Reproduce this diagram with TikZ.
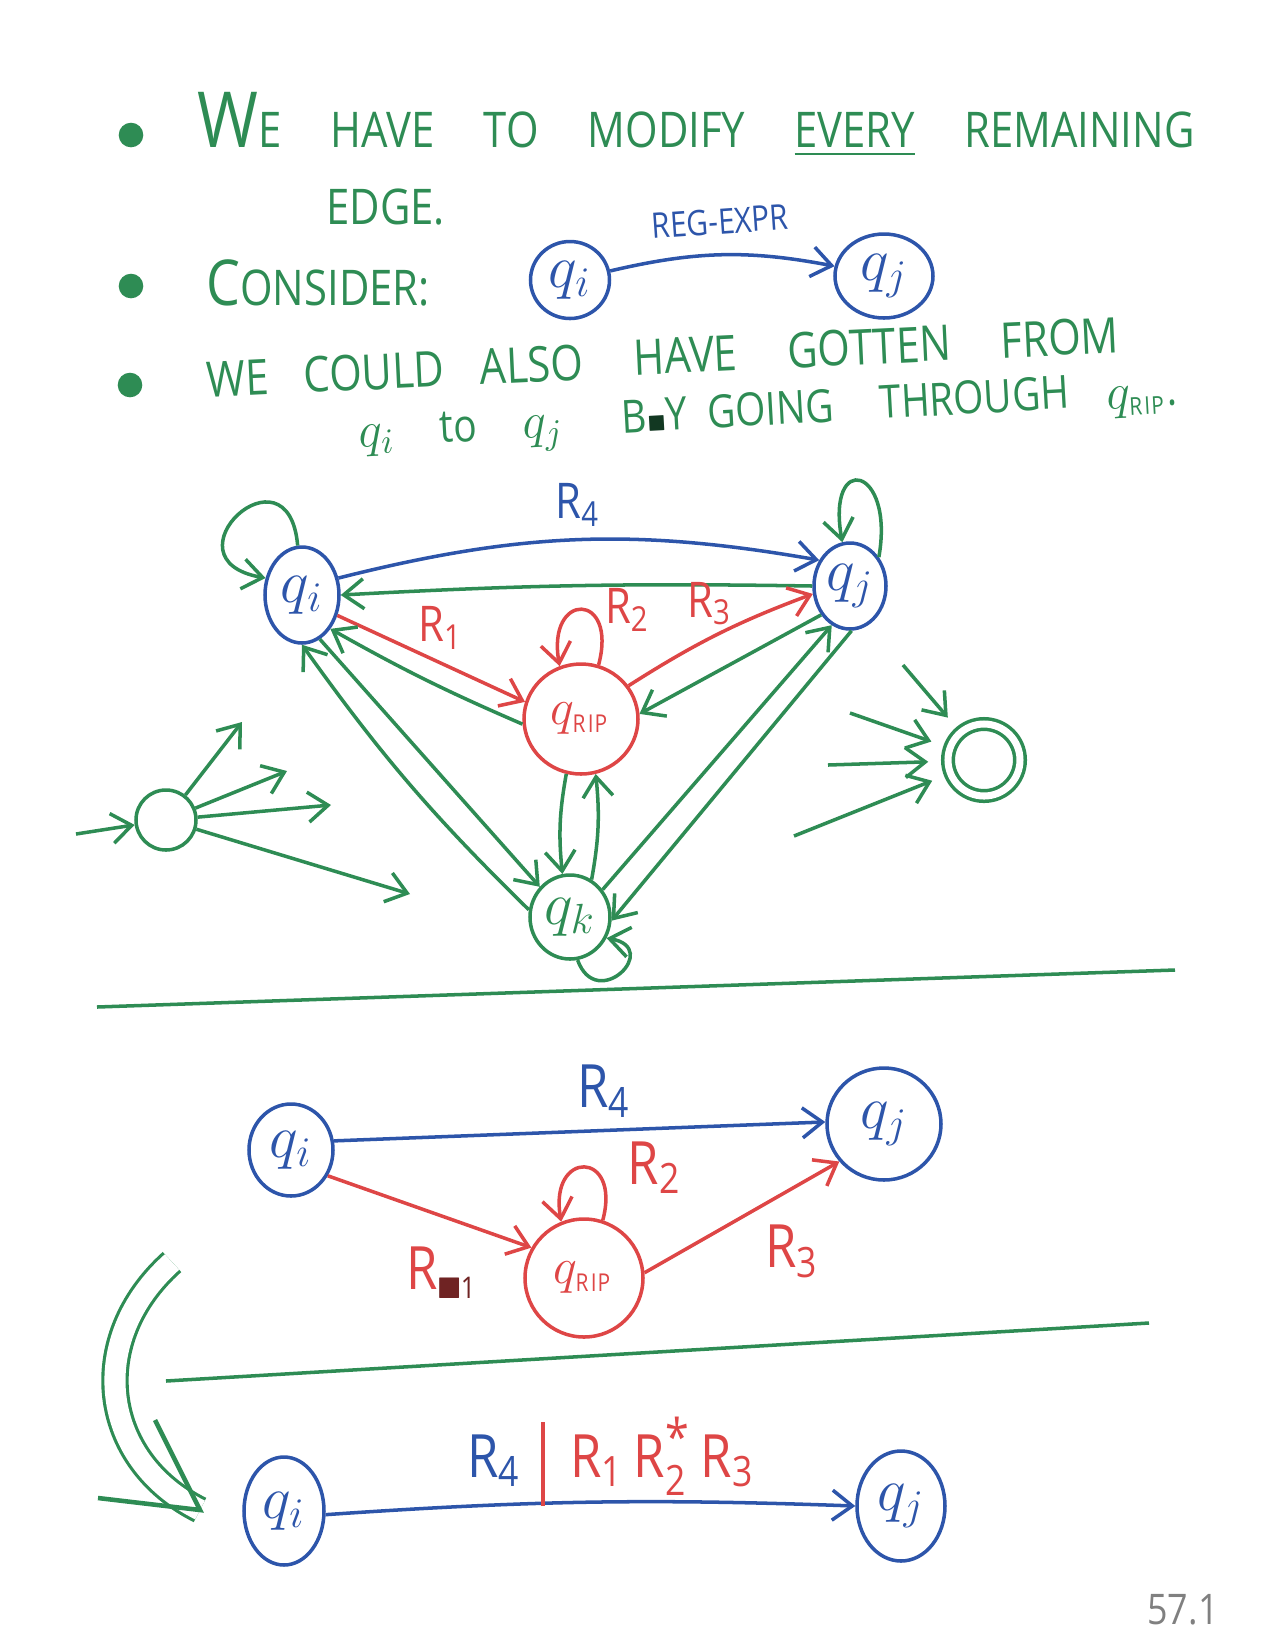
\documentclass[tikz,border=0pt]{standalone}
\usepackage{amsmath,amssymb}
\usepackage{fontspec}
\setmainfont{Open Sans}[FakeStretch=0.85]
\usepackage{tikz}
\usetikzlibrary{shapes.geometric,arrows.meta,positioning}

\definecolor{pengreen}{RGB}{46,140,84}
\definecolor{penblue}{RGB}{45,85,170}
\definecolor{penred}{RGB}{222,70,70}
\newcommand{\Rsub}[1]{R$_{\text{#1}}$}
\newcommand{\rip}{{\scriptscriptstyle\mathrm{RIP}}}

\begin{document}
\begin{tikzpicture}[x=1cm, y=-1cm, >={Straight Barb[length=2mm,width=3mm]},
    pen/.style={line width=1pt},
    state/.style={ellipse, draw, pen, inner sep=0pt, font=\LARGE},
    blue state/.style={state, draw=penblue, text=penblue},
    red state/.style={state, draw=penred, text=penred, font=\Large},
    green state/.style={state, draw=pengreen, text=pengreen},
    blue edge/.style={->, pen, penblue},
    red edge/.style={->, pen, penred},
    green edge/.style={->, pen, pengreen},
    note/.style={anchor=base west, text=pengreen, font=\fontsize{14}{16}\selectfont},
    rlabel/.style={font=\fontsize{14}{16}\selectfont},
    big rlabel/.style={font=\fontsize{17}{19}\selectfont},
    bulletdot/.style={circle, fill=pengreen, inner sep=0pt, minimum size=7pt}
]
    \useasboundingbox (0,0) rectangle (12.75,16.5);

    % bullet points
    \node[bulletdot] (b1) at (1.31,1.35) {};
    \node[note] (line1) at (1.85,1.47) {{\fontsize{22}{22}\selectfont W}E\quad HAVE\quad TO\quad MODIFY\quad \underline{EVERY}\quad REMAINING};
    \node[note] (line2) at (3.14,2.24) {EDGE.};
    \node[bulletdot] (b2) at (1.31,2.86) {};
    \node[note] (line3) at (1.94,3.05) {{\fontsize{18}{18}\selectfont C}ONSIDER:};
    \node[bulletdot] (b3) at (1.30,3.85) {};
    \node[note, rotate=2.7] (line4a) at (1.95,3.98) {WE\hspace{0.5em} COULD\hspace{0.5em} ALSO};
    \node[note, rotate=2.7] (line4b) at (6.22,3.76) {HAVE\hspace{0.8em} GOTTEN\hspace{0.8em} FROM};
    \node[note, rotate=3.2, font=\fontsize{13}{15}\selectfont] (line5a) at (3.47,4.48) {{\Large$q_i$}\quad to\quad {\Large$q_j$}};
    \node[note, rotate=3.2, font=\fontsize{13}{15}\selectfont] (line5b) at (6.10,4.34) {B{\tiny\color{pengreen!40!black}$\blacksquare$}Y\ \ GOING\quad THROUGH};
    \node[note, rotate=3.2, font=\fontsize{13}{15}\selectfont] (line5c) at (10.95,4.10) {{\Large$q_{\rip}$}.};

    % single edge example
    \node[blue state, minimum width=0.79cm, minimum height=0.77cm] (ti) at (5.70,2.80) {$q_i$};
    \node[blue state, minimum width=0.98cm, minimum height=0.84cm] (tj) at (8.84,2.76) {$q_j$};
    \draw[blue edge] (ti) to[bend left=12] node[above=2pt, rotate=4, font=\fontsize{10}{12}\selectfont] {REG-EXPR} (tj);

    % full automaton around q_rip
    \node[blue state, minimum width=0.74cm, minimum height=0.96cm] (mi) at (3.02,5.95) {$q_i$};
    \node[blue state, minimum width=0.72cm, minimum height=0.86cm] (mj) at (8.50,5.86) {$q_j$};
    \node[red state, minimum width=1.14cm, minimum height=1.10cm] (mrip) at (5.81,7.19) {$q_{\rip}$};
    \node[green state, minimum width=0.80cm, minimum height=0.84cm] (mk) at (5.70,9.17) {$q_k$};
    \node[green state, minimum size=0.6cm] (start) at (1.66,8.20) {};
    \node[green state, minimum size=0.72cm, double, double distance=2pt] (accept) at (9.84,7.60) {};

    \draw[blue edge] (mi.25) to[bend left=12] node[above, rlabel] {\Rsub{4}} (mj.140);
    \draw[green edge] (mj.180) to[bend right=2] (mi.0);
    \draw[red edge] (mi.-30) -- node[pos=0.55, above, rlabel] {\Rsub{1}} (mrip.163);
    \draw[red edge] (mrip.35) to[bend left=6] node[pos=0.45, above=0pt, rlabel] {\Rsub{3}} (mj.-168);
    \draw[red edge] (mrip.72) to[out=75, in=100, looseness=5] node[right=1mm, rlabel] {\Rsub{2}} (mrip.112);
    \draw[green edge] (mrip.185) to[bend left=3] (mi.-50);
    \draw[green edge] (mj.-135) to (mrip.5);
    \draw[green edge] (mrip.-105) to[bend right=8] (mk.100);
    \draw[green edge] (mk.60) to[bend right=8] (mrip.-75);
    \draw[green edge] (mk.170) to[bend left=5] (mi.-90);
    \draw[green edge] (mi.-68) to (mk.135);
    \draw[green edge] (mk.40) to (mj.-115);
    \draw[green edge] (mj.-88) to (mk.-5);
    \draw[green edge] (mi.95) to[out=95, in=170, looseness=6] (mi.155);
    \draw[green edge] (mj.45) to[out=80, in=100, looseness=6] (mj.100);
    \draw[green edge] (mk.-80) to[out=-70, in=-10, looseness=4] (mk.-30);

    % loose arrows at start and accepting states
    \coordinate (s0) at (0.76,8.34);
    \coordinate (s1) at (2.42,7.22);
    \coordinate (s2) at (2.87,7.71);
    \coordinate (s3) at (3.31,8.05);
    \coordinate (s4) at (4.10,8.94);
    \draw[green edge] (s0) -- (start);
    \draw[green edge] (start) -- (s1);
    \draw[green edge] (start) -- (s2);
    \draw[green edge] (start) -- (s3);
    \draw[green edge] (start) -- (s4);
    \coordinate (a1) at (9.03,6.65);
    \coordinate (a2) at (8.50,7.13);
    \coordinate (a3) at (8.28,7.65);
    \coordinate (a4) at (7.94,8.36);
    \draw[green edge, shorten >=1.8mm] (a1) -- (accept);
    \draw[green edge, shorten >=1.8mm] (a2) -- (accept);
    \draw[green edge, shorten >=1.8mm] (a3) -- (accept);
    \draw[green edge, shorten >=1.8mm] (a4) -- (accept);

    \draw[pen, pengreen] (0.97,10.07) -- (11.75,9.70);

    % only the edges through q_rip
    \node[blue state, minimum width=0.84cm, minimum height=0.92cm] (li) at (2.91,11.50) {$q_i$};
    \node[blue state, minimum width=1.14cm, minimum height=1.12cm] (lj) at (8.84,11.24) {$q_j$};
    \node[red state, minimum size=1.18cm] (lrip) at (5.84,12.78) {$q_{\rip}$};
    \draw[blue edge] (li.12) -- node[pos=0.55, above, big rlabel] {\Rsub{4}} (lj.178);
    \draw[red edge] (li.-35) -- node[pos=0.8, below left, big rlabel] {R$_{\color{penred!50!black}\scriptscriptstyle\blacksquare\text{1}}$} (lrip.150);
    \draw[red edge] (lrip.5) -- node[pos=0.55, below right, big rlabel] {\Rsub{3}} (lj.-140);
    \draw[red edge] (lrip.72) to[out=75, in=100, looseness=4.5] node[right=3mm, big rlabel] {\Rsub{2}} (lrip.112);

    % rewrite arrow
    \coordinate (c1) at (1.72,12.62);
    \coordinate (c2) at (2.00,15.10);
    \draw[pengreen, line width=0.9pt, double distance=6pt] (c1) .. controls (0.85,13.4) and (1.0,14.6) .. (c2);
    \draw[pengreen, line width=1.3pt] (c2) ++(-1.02,-0.12) -- (c2) -- ++(-0.45,-0.9);

    \draw[pen, pengreen] (1.66,13.81) -- (11.49,13.23);

    % result
    \node[blue state, minimum width=0.80cm, minimum height=1.08cm] (bi) at (2.84,15.11) {$q_i$};
    \node[blue state, minimum width=0.88cm, minimum height=1.10cm] (bj) at (9.01,15.06) {$q_j$};
    \draw[blue edge] (bi.-5) to[bend left=3] (bj.180);
    \node[big rlabel, text=penblue] (lr4) at (4.94,14.61) {\Rsub{4}};
    \node[big rlabel, text=penred, anchor=west] (lrest) at (5.58,14.56) {\Rsub{1}\,R$^{\text{\Large *}}_{\text{2}}$\,\Rsub{3}};
    \draw[pen, penred] (5.43,14.22) -- (5.43,15.06);

    \node[text=gray, font=\fontsize{12}{14}\selectfont] (page) at (11.83,16.10) {57.1};
\end{tikzpicture}
\end{document}
